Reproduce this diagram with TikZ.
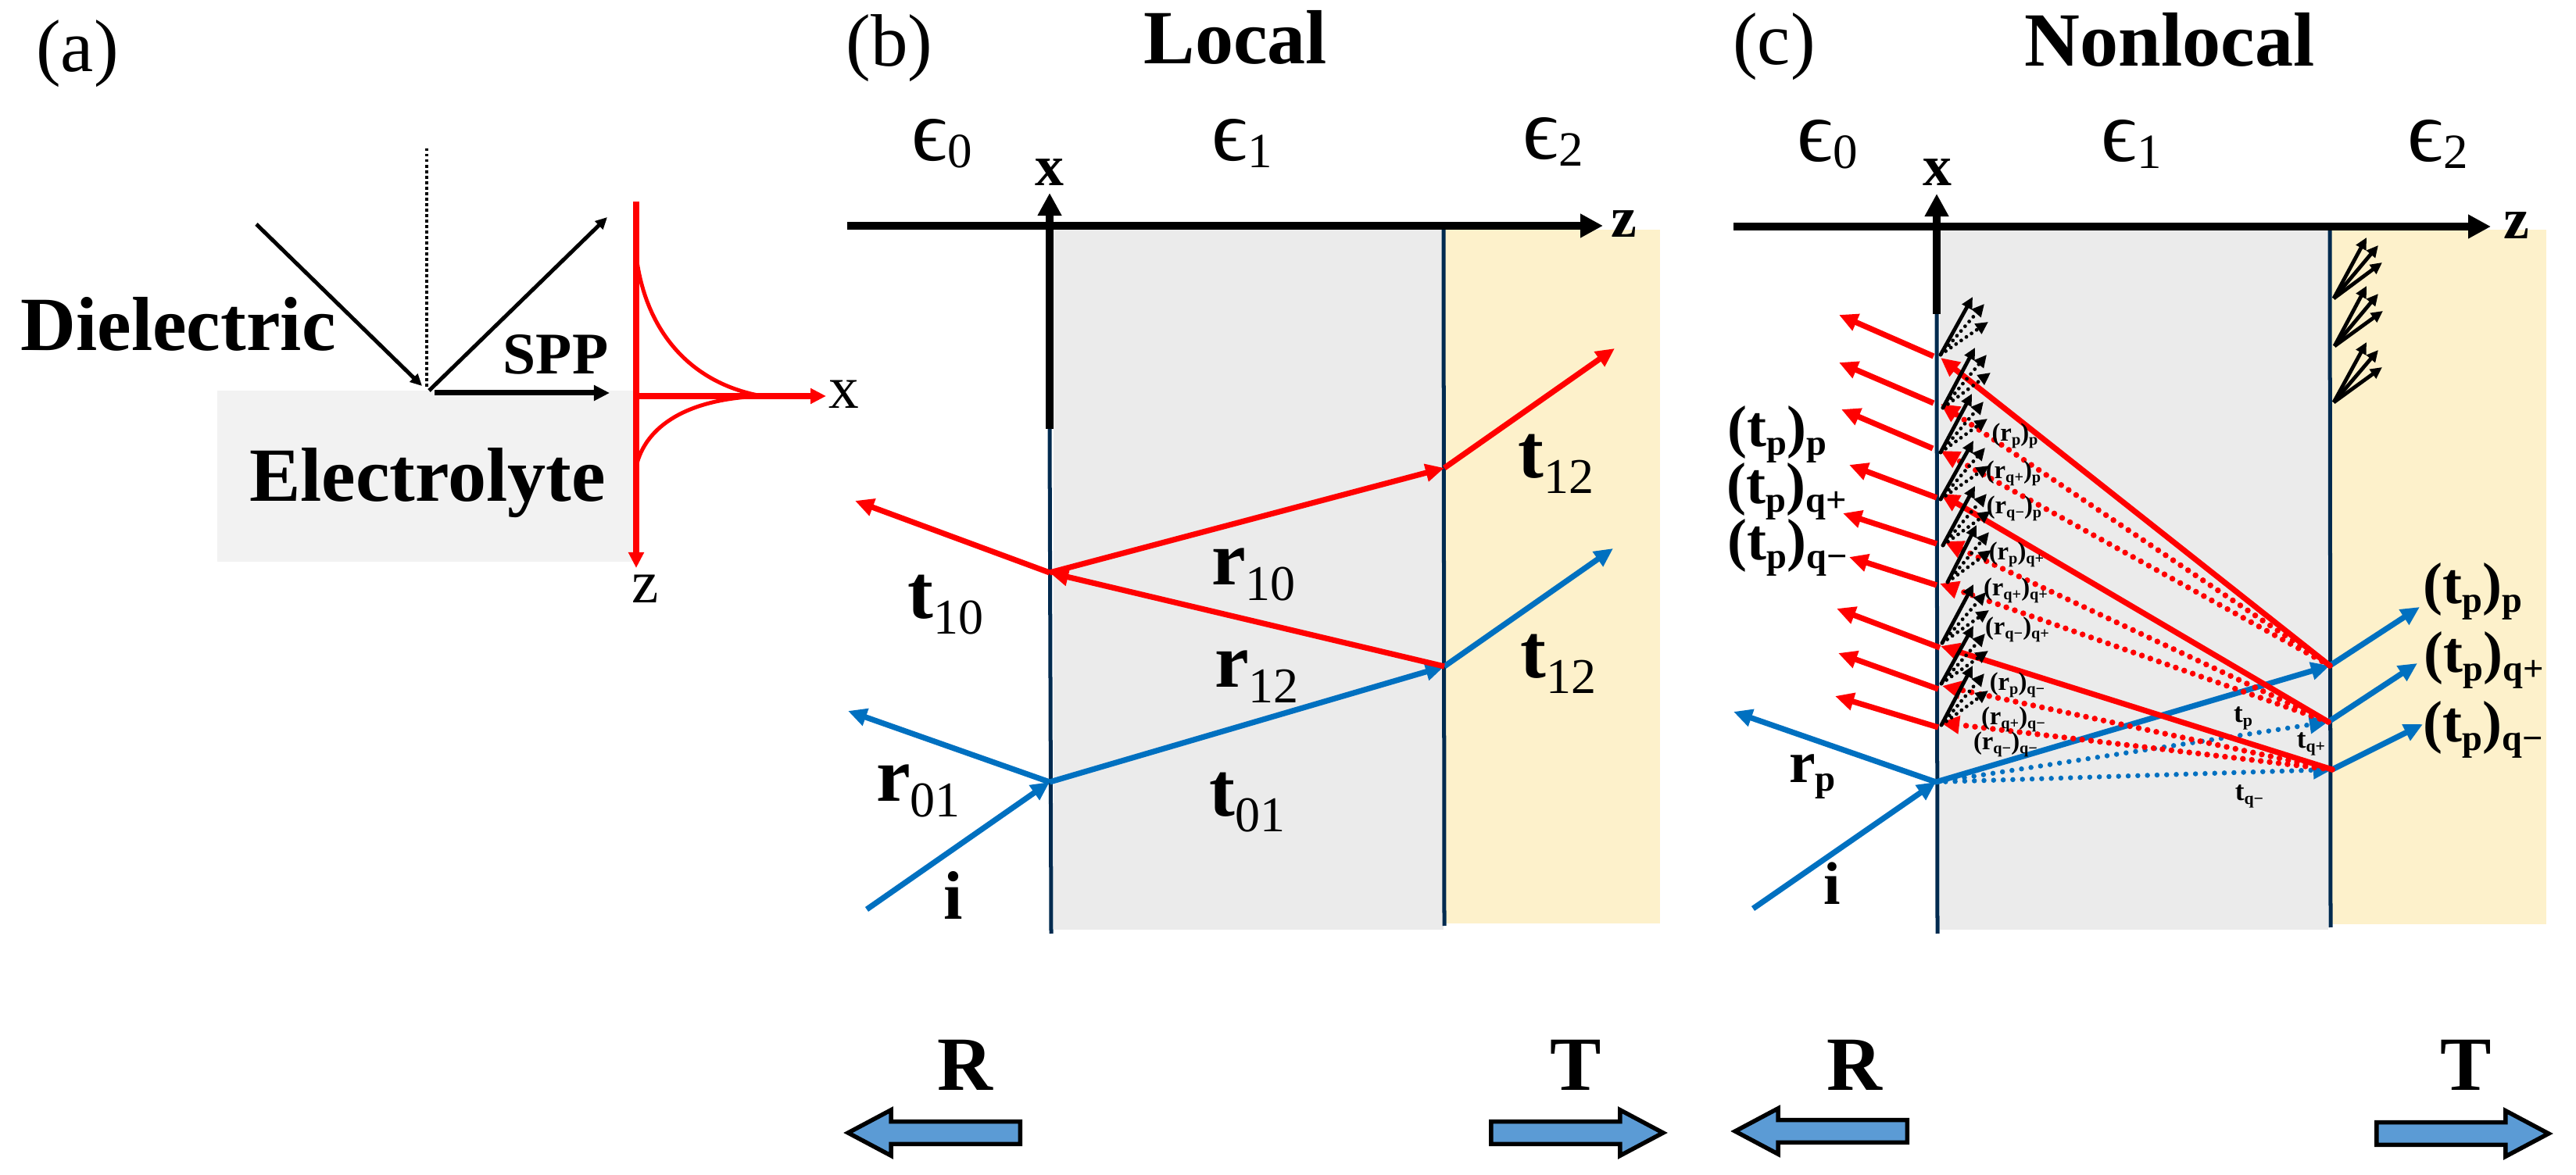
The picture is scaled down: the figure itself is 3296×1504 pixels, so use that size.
\documentclass[tikz,border=0pt]{standalone}
\usepackage{fontspec}
\setmainfont{Liberation Serif}
\usetikzlibrary{shapes, arrows.meta}
\definecolor{rayred}{HTML}{FF0000}
\definecolor{rayblue}{HTML}{0070C0}
\definecolor{navyline}{HTML}{002A4F}
\definecolor{slabgray}{HTML}{EBEBEB}
\definecolor{slabyellow}{HTML}{FDF1CB}
\definecolor{lightgray}{HTML}{F2F2F2}
\definecolor{blockblue}{HTML}{5B9BD5}
\newcommand{\bsub}[1]{\raisebox{-.14em}{\scalebox{.62}{#1}}}
\newcommand{\dsub}[1]{\raisebox{-.2em}{\scalebox{.65}{\mdseries #1}}}
\newcommand{\esub}[1]{\raisebox{-.08em}{\scalebox{.56}{#1}}}
\tikzset{
  every node/.style={inner sep=0pt, anchor=base},
  blab/.style={font=\fontsize{#1}{#1}\selectfont\bfseries},
  rlab/.style={font=\fontsize{#1}{#1}\selectfont},
  bigaxis/.style={line width=.107cm, -{Triangle[length=.29cm,width=.29cm]}},
  interface/.style={navyline, line width=.05cm},
  redray/.style={rayred, line width=.072cm, -{Triangle[length=.24cm,width=.22cm]}},
  blueray/.style={rayblue, line width=.072cm, -{Triangle[length=.24cm,width=.22cm]}},
  reddots/.style={rayred, line width=.075cm, line cap=round, dash pattern=on 0pt off .115cm, -{Triangle[length=.24cm,width=.22cm]}},
  bluedots/.style={rayblue, line width=.065cm, line cap=round, dash pattern=on 0pt off .123cm, -{Triangle[length=.24cm,width=.22cm]}},
  fanline/.style={black, line width=.048cm, -{Triangle[length=.15cm,width=.14cm]}},
  fandots/.style={black, line width=.048cm, line cap=round, dash pattern=on 0pt off .08cm, -{Triangle[length=.16cm,width=.15cm]}},
  thinarrow/.style={black, line width=.05cm, -{Triangle[length=.15cm,width=.14cm]}},
  blockarrow/.style={single arrow, draw=black, fill=blockblue, line width=.055cm, anchor=tail,
    inner ysep=.115cm, minimum height=2.2cm, single arrow head extend=.15cm, single arrow tip angle=56},
}
\begin{document}
\begin{tikzpicture}[x=.01cm, y=-.01cm]
\useasboundingbox (0,0) rectangle (3296,1504);

\fill[lightgray] (278,500) rectangle (814,719);
\coordinate (aI) at (328,287);
\coordinate (aO) at (546,497);
\coordinate (aTop) at (546,190);
\coordinate (aHit) at (540,494);
\coordinate (aOut) at (549,500);
\coordinate (aRef) at (777,278);
\coordinate (sppA) at (556,503);
\coordinate (sppB) at (780,503);
\draw[thinarrow] (aI) -- (aHit);
\draw[thinarrow] (aOut) -- (aRef);
\draw[black, line width=.04cm, dash pattern=on .035cm off .035cm] (aTop) -- (aO);
\draw[black, line width=.07cm, -{Triangle[length=.2cm,width=.19cm]}] (sppA) -- (sppB);
\coordinate (fT) at (814,258);
\coordinate (fB) at (814,727);
\coordinate (fO) at (814,507);
\coordinate (fX) at (1057,507);
\coordinate (fU) at (814,327);
\coordinate (fM) at (975,507);
\coordinate (fL) at (814,597);
\draw[rayred, line width=.075cm, -{Triangle[length=.2cm,width=.19cm]}] (fT) -- (fB);
\draw[rayred, line width=.075cm, -{Triangle[length=.2cm,width=.19cm]}] (fO) -- (fX);
\draw[rayred, line width=.05cm] (fU) .. controls (825,420) and (880,490) .. (fM);
\draw[rayred, line width=.05cm] (fM) .. controls (880,510) and (826,545) .. (fL);
\node[rlab=27] (labA) at (99,92) {(a)};
\node[blab=27.9] (dielectric) at (228,449) {Dielectric};
\node[blab=27.9] (electrolyte) at (547,642) {Electrolyte};
\node[blab=21.5] (spp) at (711,479) {SPP};
\node[rlab=22] (xA) at (1080,523) {x};
\node[rlab=22] (zA) at (826,772) {z};

\fill[slabgray] (1348,289) rectangle (1847,1190);
\fill[slabyellow] (1849,294) rectangle (2124,1182);
\coordinate (bA) at (1343,549);
\coordinate (bB) at (1345,1195);
\coordinate (bC) at (1847,289);
\coordinate (bD) at (1848,1185);
\draw[interface] (bA) -- (bB);
\draw[interface] (bC) -- (bD);
\coordinate (bAxL) at (1084,289);
\coordinate (bAxR) at (2051,289);
\coordinate (bAxT) at (1343,247);
\draw[bigaxis] (bAxL) -- (bAxR);
\draw[bigaxis, line width=.1cm] (bA) -- (bAxT);
\coordinate (bP0) at (1109,1164);
\coordinate (bP1) at (1343,1001);
\coordinate (bP2) at (1085,910);
\coordinate (bP3) at (1848,853);
\coordinate (bP4) at (2064,702);
\coordinate (bP5) at (1343,733);
\coordinate (bP6) at (1094,641);
\coordinate (bP7) at (1848,599);
\coordinate (bP8) at (2066,446);
\draw[blueray] (bP0) -- (bP1);
\draw[blueray] (bP1) -- (bP2);
\draw[blueray] (bP1) -- (bP3);
\draw[blueray] (bP3) -- (bP4);
\draw[redray] (bP3) -- (bP5);
\draw[redray] (bP5) -- (bP6);
\draw[redray] (bP5) -- (bP7);
\draw[redray] (bP7) -- (bP8);
\node[rlab=27] (labB) at (1138,85) {(b)};
\node[blab=27.9] (local) at (1581,82) {Local};
\node[rlab=32] (eps0b) at (1205,206) {ϵ\esub{0}};
\node[rlab=32] (eps1b) at (1589,206) {ϵ\esub{1}};
\node[rlab=32] (eps2b) at (1987,204) {ϵ\esub{2}};
\node[blab=21] (xB) at (1343,238) {x};
\node[blab=21] (zB) at (2078,304) {z};
\node[blab=28] (t12a) at (1991,612) {t\dsub{12}};
\node[blab=28] (t12b) at (1994,868) {t\dsub{12}};
\node[blab=28] (r10) at (1604,749) {r\dsub{10}};
\node[blab=28] (r12) at (1608,880) {r\dsub{12}};
\node[blab=28] (t10) at (1210,792) {t\dsub{10}};
\node[blab=28] (r01) at (1175,1026) {r\dsub{01}};
\node[blab=28] (t01) at (1596,1045) {t\dsub{01}};
\node[blab=25] (iB) at (1220,1177) {i};
\node[blab=27.9] (rB) at (1235,1395) {R};
\node[blab=27.9] (tB) at (2016,1395) {T};
\node[blockarrow, shape border rotate=180] (arrRb) at (1308,1450) {};
\node[blockarrow] (arrTb) at (1905,1450) {};

\fill[slabgray] (2482,290) rectangle (2979,1190);
\fill[slabyellow] (2983,294) rectangle (3258,1183);
\coordinate (cA) at (2478,402);
\coordinate (cB) at (2479,1195);
\coordinate (cC) at (2981,290);
\coordinate (cD) at (2982,1187);
\draw[interface] (cA) -- (cB);
\draw[interface] (cC) -- (cD);
\coordinate (cAxL) at (2218,290);
\coordinate (cAxR) at (3187,290);
\coordinate (cAxT) at (2478,248);
\draw[bigaxis] (cAxL) -- (cAxR);
\draw[bigaxis, line width=.1cm] (cA) -- (cAxT);

\coordinate (cI) at (2243,1163);
\coordinate (cH) at (2477,1001);
\coordinate (cRp) at (2218,911);
\coordinate (cP) at (2981,852);
\coordinate (cQ) at (2979,924);
\coordinate (cS) at (2984,985);
\coordinate (cPo) at (3096,777);
\coordinate (cQo) at (3093,849);
\coordinate (cSo) at (3100,927);
\draw[blueray] (cI) -- (cH);
\draw[blueray] (cH) -- (cRp);
\draw[blueray] (cH) -- (cP);
\draw[bluedots] (cH) -- (cQ);
\draw[bluedots] (cH) -- (cS);
\draw[blueray] (cP) -- (cPo);
\draw[blueray] (cQ) -- (cQo);
\draw[blueray] (cS) -- (cSo);

\foreach \i/\from/\ex/\ey in {1/cP/2483/517, 2/cP/2483/577, 3/cQ/2488/693, 4/cQ/2482/747, 5/cS/2485/878, 6/cS/2483/925}{
  \coordinate (dot\i) at (\ex,\ey);
  \draw[reddots] (\from) -- (dot\i);
}
\foreach \i/\from/\ex/\ey in {1/cP/2483/458, 2/cQ/2483/632, 3/cS/2483/827}{
  \coordinate (sol\i) at (\ex,\ey);
  \draw[redray] (\from) -- (sol\i);
}
\foreach \i/\sx/\sy/\ex/\ey in {1/2474/456/2353/403, 2/2474/516/2353/464, 3/2473/574/2356/524, 4/2478/637/2366/595, 5/2478/696/2358/657, 6/2478/749/2366/713, 7/2482/829/2350/779, 8/2480/882/2352/836, 9/2480/931/2348/891}{
  \coordinate (ex\i) at (\sx,\sy);
  \coordinate (ey\i) at (\ex,\ey);
  \draw[redray] (ex\i) -- (ey\i);
}
\foreach \i/\ox/\oy/\ax/\ay/\bx/\by/\cx/\cy in {1/2483/454/2524/380/2539/389/2544/412, 2/2486/522/2527/445/2542/454/2547/477, 3/2483/579/2523/504/2538/514/2543/536, 4/2483/639/2525/564/2540/573/2545/596, 5/2486/698/2527/622/2542/632/2547/654, 6/2492/745/2529/672/2545/681/2548/704, 7/2485/823/2525/748/2541/758/2545/781, 8/2484/875/2525/801/2540/811/2544/833, 9/2484/928/2524/852/2539/862/2544/884}{
  \coordinate (fan\i) at (\ox,\oy);
  \coordinate (fan\i a) at (\ax,\ay);
  \coordinate (fan\i b) at (\bx,\by);
  \coordinate (fan\i c) at (\cx,\cy);
  \draw[fanline] (fan\i) -- (fan\i a);
  \draw[fandots] (fan\i) -- (fan\i b);
  \draw[fandots] (fan\i) -- (fan\i c);
}
\foreach \i/\ox/\oy/\ax/\ay/\bx/\by/\cx/\cy in {1/2986/382/3028/304/3043/314/3048/336, 2/2987/443/3028/366/3043/376/3049/398, 3/2986/515/3028/438/3043/448/3048/470}{
  \coordinate (yfan\i) at (\ox,\oy);
  \coordinate (yfan\i a) at (\ax,\ay);
  \coordinate (yfan\i b) at (\bx,\by);
  \coordinate (yfan\i c) at (\cx,\cy);
  \draw[fanline] (yfan\i) -- (yfan\i a);
  \draw[fanline] (yfan\i) -- (yfan\i b);
  \draw[fanline] (yfan\i) -- (yfan\i c);
}

\node[rlab=27] (labC) at (2270,83) {(c)};
\node[blab=27.9] (nonlocal) at (2776,85) {Nonlocal};
\node[rlab=32] (eps0c) at (2338,207) {ϵ\esub{0}};
\node[rlab=32] (eps1c) at (2727,207) {ϵ\esub{1}};
\node[rlab=32] (eps2c) at (3119,207) {ϵ\esub{2}};
\node[blab=21] (xC) at (2479,238) {x};
\node[blab=21] (zC) at (3220,306) {z};
\node[blab=21.3] (lpp) at (2274,572) {(t\bsub{p})\bsub{p}};
\node[blab=21.3] (lqp) at (2286,645) {(t\bsub{p})\bsub{q+}};
\node[blab=21.3] (lqm) at (2287,717) {(t\bsub{p})\bsub{q−}};
\node[blab=21.3] (rpp) at (3164,773) {(t\bsub{p})\bsub{p}};
\node[blab=21.3] (rqp) at (3178,861) {(t\bsub{p})\bsub{q+}};
\node[blab=21.3] (rqm) at (3177,950) {(t\bsub{p})\bsub{q−}};
\node[blab=21.5] (rp) at (2319,1002) {r\bsub{p}};
\node[blab=22] (iC) at (2344,1158) {i};
\node[blab=27.9] (rC) at (2373,1395) {R};
\node[blab=27.9] (tC) at (3155,1395) {T};
\node[blockarrow, shape border rotate=180] (arrRc) at (2443,1448) {};
\node[blockarrow] (arrTc) at (3038,1451) {};
\node[blab=10] (tp) at (2870,925) {t\bsub{p}};
\node[blab=10] (tqp) at (2957,958) {t\bsub{q+}};
\node[blab=10] (tqm) at (2878,1025) {t\bsub{q−}};
\foreach \n/\cx/\by/\a/\b in {rpp/2578/565/p/p, rqpp/2576/613/q+/p, rqmp/2577/658/q−/p, rpqp/2580/717/p/q+, rqpqp/2579/763/q+/q+, rqmqp/2581/813/q−/q+, rpqm/2581/884/p/q−, rqpqm/2576/928/q+/q−, rqmqm/2566/960/q−/q−}{
  \node[blab=9.3] (small\n) at (\cx,\by) {(r\bsub{\a})\bsub{\b}};
}
\end{tikzpicture}
\end{document}
